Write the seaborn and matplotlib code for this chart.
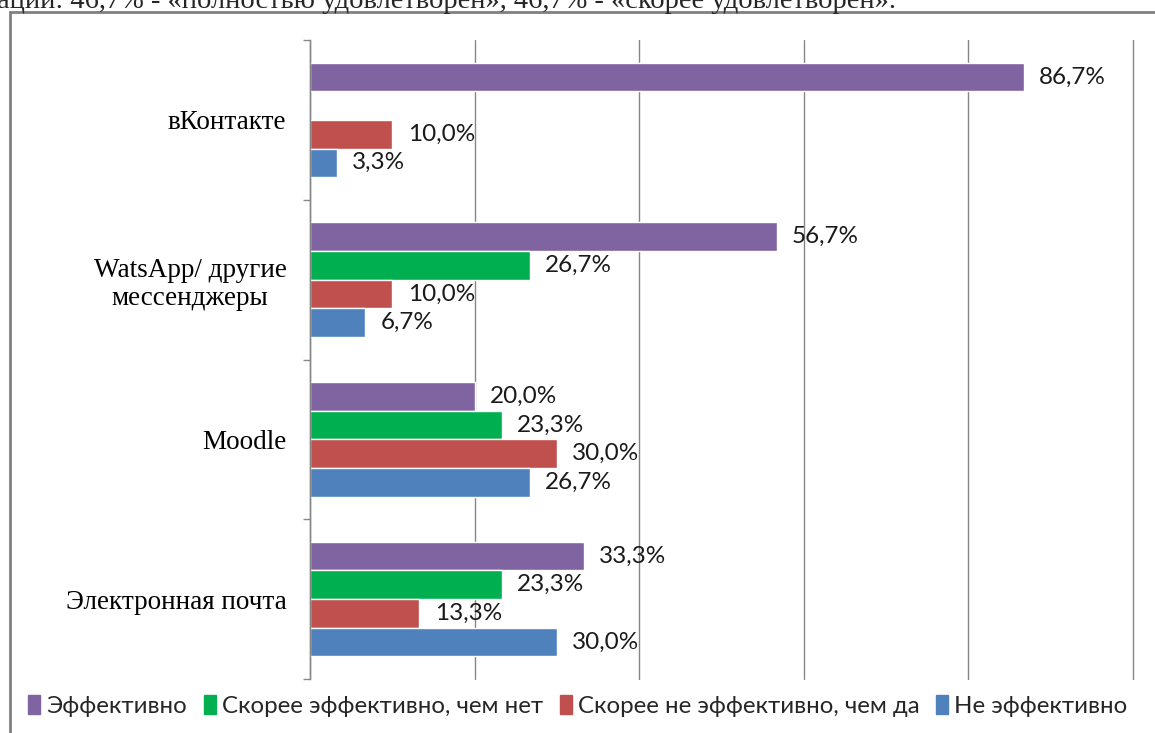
import matplotlib
matplotlib.use("Agg")
import matplotlib.pyplot as plt
from matplotlib.patches import Rectangle
import numpy as np
import pandas as pd
import seaborn as sns

sns.set_theme(style="white")

# данные
categories = ["вКонтакте", "WatsApp/ другие\nмессенджеры", "Moodle", "Электронная почта"]
series = ["Эффективно", "Скорее эффективно, чем нет", "Скорее не эффективно, чем да", "Не эффективно"]
effective = [86.7, 56.7, 20.0, 33.3]
rather_effective = [np.nan, 26.7, 23.3, 23.3]
rather_not = [10.0, 10.0, 30.0, 13.3]
not_effective = [3.3, 6.7, 26.7, 30.0]
colors = ["#8064A2", "#00B050", "#C0504D", "#4F81BD"]

rows = []
for name, vals in zip(series, [effective, rather_effective, rather_not, not_effective]):
    for cat, v in zip(categories, vals):
        rows.append({"category": cat, "series": name, "value": v})
df = pd.DataFrame(rows)

W, H = 1155, 733
fig = plt.figure(figsize=(W / 100, H / 100), dpi=100)
ax = fig.add_axes([310 / W, 1 - 679 / H, (1133 - 310) / W, (679 - 40) / H])

sns.barplot(data=df, x="value", y="category", hue="series", order=categories,
            hue_order=series, palette=colors, orient="h", width=0.717, gap=0,
            saturation=1, ax=ax, legend=True)

for c in ax.containers:
    labels = [f"{v:.1f}%".replace(".", ",") for v in c.datavalues]
    ax.bar_label(c, labels=labels, padding=11, fontsize=17.5, family="Lato", color="#1a1a1a")

ax.set_xlim(0, 100)
ax.set_ylim(3.5, -0.5)
ax.set_xticks([0, 20, 40, 60, 80, 100])
ax.set_xticklabels([])
ax.tick_params(axis="x", length=0)
ax.xaxis.grid(True, color="#868686", linewidth=1)
for gl in ax.get_xgridlines():
    gl.set_clip_on(False)
ax.set_axisbelow(True)
ax.set_xlabel("")
ax.set_ylabel("")

ax.set_yticks(range(len(categories)))
ax.set_yticklabels(categories, family="Liberation Serif", fontsize=19.5, color="black",
                   multialignment="center")
ax.set_yticks(np.arange(-0.5, 4.0, 1.0), minor=True)
ax.tick_params(axis="y", which="major", length=0, pad=17)
ax.tick_params(axis="y", which="minor", length=5, color="#868686", width=1, left=True)

for s in ["top", "right", "bottom"]:
    ax.spines[s].set_visible(False)
ax.spines["left"].set_color("#868686")
ax.spines["left"].set_linewidth(1)

ax.legend_.remove()
handles = [Rectangle((0, 0), 1, 1, color=c) for c in colors]
fig.legend(handles, series, loc="center", bbox_to_anchor=(578 / W, 1 - 706 / H), ncol=4,
           frameon=False, handlelength=0.5, handleheight=0.85, handletextpad=0.25,
           columnspacing=0.7, prop={"family": "Lato", "size": 17.3})

# рамка и обрезанный текст сверху
fig.add_artist(Rectangle((10 / W, -0.1), 2, 1 - 12 / H + 0.1, transform=fig.transFigure,
                         fill=False, edgecolor="#808080", linewidth=2))
fig.text(-3 / W, 1 - 8 / H, "ации: 46,7% - «полностью удовлетворен», 46,7% - «скорее удовлетворен».",
         family="Liberation Serif", fontsize=20.5, va="baseline", ha="left")

fig.savefig("out.png", dpi=100)
